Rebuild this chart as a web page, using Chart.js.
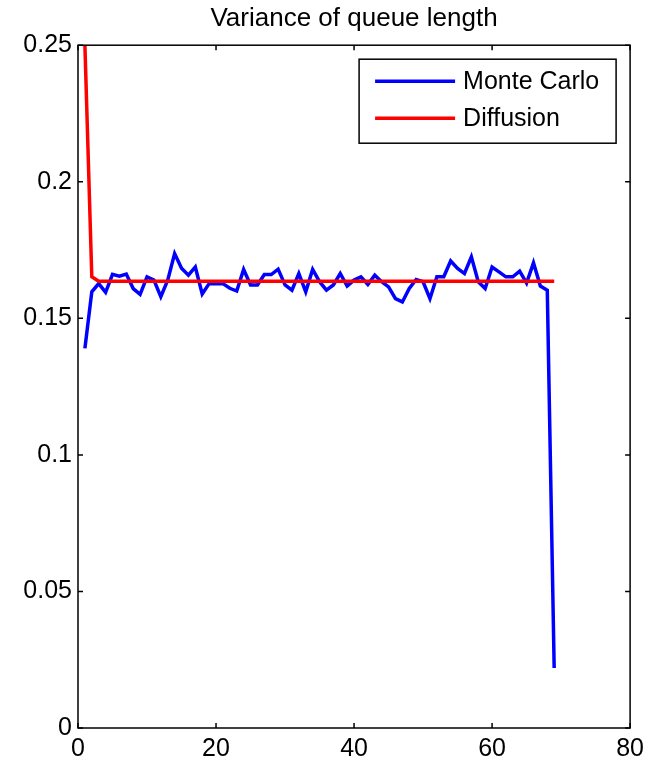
<!DOCTYPE html>
<html>
<head>
<meta charset="utf-8">
<title>Variance of queue length</title>
<script src="https://cdn.jsdelivr.net/npm/chart.js@4.4.1/dist/chart.umd.min.js"></script>
<style>
  html, body { margin: 0; padding: 0; background: #ffffff; }
  canvas { display: block; }
</style>
</head>
<body>
<canvas id="variance" width="650" height="764"></canvas>
<script>
// Variance of the queue length per time step
var monteCarlo = [
  0.139, 0.1597, 0.1627, 0.1595, 0.1661, 0.1654, 0.1662, 0.1609, 0.1588, 0.1652,
  0.164, 0.1579, 0.164, 0.1737, 0.1683, 0.1658, 0.1688, 0.1589, 0.1627, 0.1627,
  0.1627, 0.161, 0.160, 0.1679, 0.1622, 0.1622, 0.166, 0.166, 0.168, 0.1622,
  0.1603, 0.1664, 0.1597, 0.1679, 0.1634, 0.1603, 0.1622, 0.1664, 0.1618, 0.164,
  0.1652, 0.1624, 0.1658, 0.1634, 0.1615, 0.1572, 0.156, 0.1609, 0.1642, 0.1634,
  0.1572, 0.1652, 0.1652, 0.171, 0.1683, 0.1664, 0.1725, 0.1634, 0.1609, 0.1688,
  0.167, 0.1652, 0.1652, 0.1673, 0.1629, 0.1703, 0.1618, 0.1603, 0.022
];
var diffusion = [
  0.25, 0.1652, 0.1636, 0.1636, 0.1636, 0.1636, 0.1636, 0.1636, 0.1636, 0.1636,
  0.1636, 0.1636, 0.1636, 0.1636, 0.1636, 0.1636, 0.1636, 0.1636, 0.1636, 0.1636,
  0.1636, 0.1636, 0.1636, 0.1636, 0.1636, 0.1636, 0.1636, 0.1636, 0.1636, 0.1636,
  0.1636, 0.1636, 0.1636, 0.1636, 0.1636, 0.1636, 0.1636, 0.1636, 0.1636, 0.1636,
  0.1636, 0.1636, 0.1636, 0.1636, 0.1636, 0.1636, 0.1636, 0.1636, 0.1636, 0.1636,
  0.1636, 0.1636, 0.1636, 0.1636, 0.1636, 0.1636, 0.1636, 0.1636, 0.1636, 0.1636,
  0.1636, 0.1636, 0.1636, 0.1636, 0.1636, 0.1636, 0.1636, 0.1636, 0.1636
];
var seriesNames = ['Monte Carlo', 'Diffusion'];
var xTicks = [0, 20, 40, 60, 80];
var yTicks = [0, 0.05, 0.1, 0.15, 0.2, 0.25];
var yTickLabels = ['0', '0.05', '0.1', '0.15', '0.2', '0.25'];

var FONT = 'Arial, "Liberation Sans", Helvetica, sans-serif';

function toPoints(values) {
  return values.map(function (v, i) { return { x: i + 1, y: v }; });
}

// Box around the axes with short inward ticks on all four sides
var axesBox = {
  id: 'axesBox',
  afterDatasetsDraw: function (chart) {
    var ctx = chart.ctx;
    var a = chart.chartArea;
    var xs = chart.scales.x;
    var ys = chart.scales.y;
    var len = 5;
    ctx.save();
    ctx.strokeStyle = '#000000';
    ctx.lineWidth = 1.5;
    ctx.strokeRect(a.left, a.top, a.right - a.left, a.bottom - a.top);
    ctx.beginPath();
    xTicks.forEach(function (t) {
      var px = xs.getPixelForValue(t);
      ctx.moveTo(px, a.bottom); ctx.lineTo(px, a.bottom - len);
      ctx.moveTo(px, a.top); ctx.lineTo(px, a.top + len);
    });
    yTicks.forEach(function (t) {
      var py = ys.getPixelForValue(t);
      ctx.moveTo(a.left, py); ctx.lineTo(a.left + len, py);
      ctx.moveTo(a.right, py); ctx.lineTo(a.right - len, py);
    });
    ctx.stroke();
    ctx.restore();
  }
};

// Boxed legend in the upper right corner of the plot
var boxLegend = {
  id: 'boxLegend',
  afterDraw: function (chart) {
    var ctx = chart.ctx;
    var a = chart.chartArea;
    var w = 257, h = 84;
    var left = a.right - 14 - w;
    var top = a.top + 14;
    ctx.save();
    ctx.fillStyle = '#ffffff';
    ctx.fillRect(left, top, w, h);
    ctx.strokeStyle = '#000000';
    ctx.lineWidth = 1.5;
    ctx.strokeRect(left, top, w, h);
    ctx.font = '25px ' + FONT;
    ctx.textBaseline = 'middle';
    chart.data.datasets.forEach(function (ds, i) {
      var y = top + 22 + i * 37;
      ctx.strokeStyle = ds.borderColor;
      ctx.lineWidth = 3.5;
      ctx.beginPath();
      ctx.moveTo(left + 16, y);
      ctx.lineTo(left + 96, y);
      ctx.stroke();
      ctx.fillStyle = '#000000';
      ctx.fillText(ds.label, left + 104, y + 1);
    });
    ctx.restore();
  }
};

var ctx = document.getElementById('variance').getContext('2d');
var chart = new Chart(ctx, {
  type: 'line',
  data: {
    datasets: [{
      label: seriesNames[0],
      data: toPoints(monteCarlo),
      borderColor: '#0000ff',
      borderWidth: 3.5,
      pointRadius: 0,
      tension: 0,
      order: 2
    }, {
      label: seriesNames[1],
      data: toPoints(diffusion),
      borderColor: '#ff0000',
      borderWidth: 3.5,
      pointRadius: 0,
      tension: 0,
      order: 1
    }]
  },
  options: {
    responsive: false,
    animation: false,
    layout: { padding: { left: 0, right: 18, top: 0, bottom: 0 } },
    plugins: {
      legend: { display: false },
      tooltip: { enabled: false },
      title: {
        display: true,
        fullSize: false,
        text: 'Variance of queue length',
        color: '#000000',
        font: { family: FONT, size: 26, weight: 'normal' },
        padding: { top: 3, bottom: 11 }
      }
    },
    scales: {
      x: {
        type: 'linear',
        min: 0,
        max: 80,
        afterFit: function (s) { s.height = 36; },
        afterBuildTicks: function (s) { s.ticks = xTicks.map(function (v) { return { value: v }; }); },
        grid: { display: false, drawTicks: false },
        border: { display: false },
        ticks: { color: '#000000', padding: 6, maxRotation: 0, font: { family: FONT, size: 25 } }
      },
      y: {
        type: 'linear',
        min: 0,
        max: 0.25,
        afterFit: function (s) { s.width = 78; },
        afterBuildTicks: function (s) { s.ticks = yTicks.map(function (v) { return { value: v }; }); },
        grid: { display: false, drawTicks: false },
        border: { display: false },
        ticks: {
          color: '#000000',
          padding: 6,
          font: { family: FONT, size: 25 },
          callback: function (value, index) { return yTickLabels[index]; }
        }
      }
    }
  },
  plugins: [axesBox, boxLegend]
});
</script>
</body>
</html>
